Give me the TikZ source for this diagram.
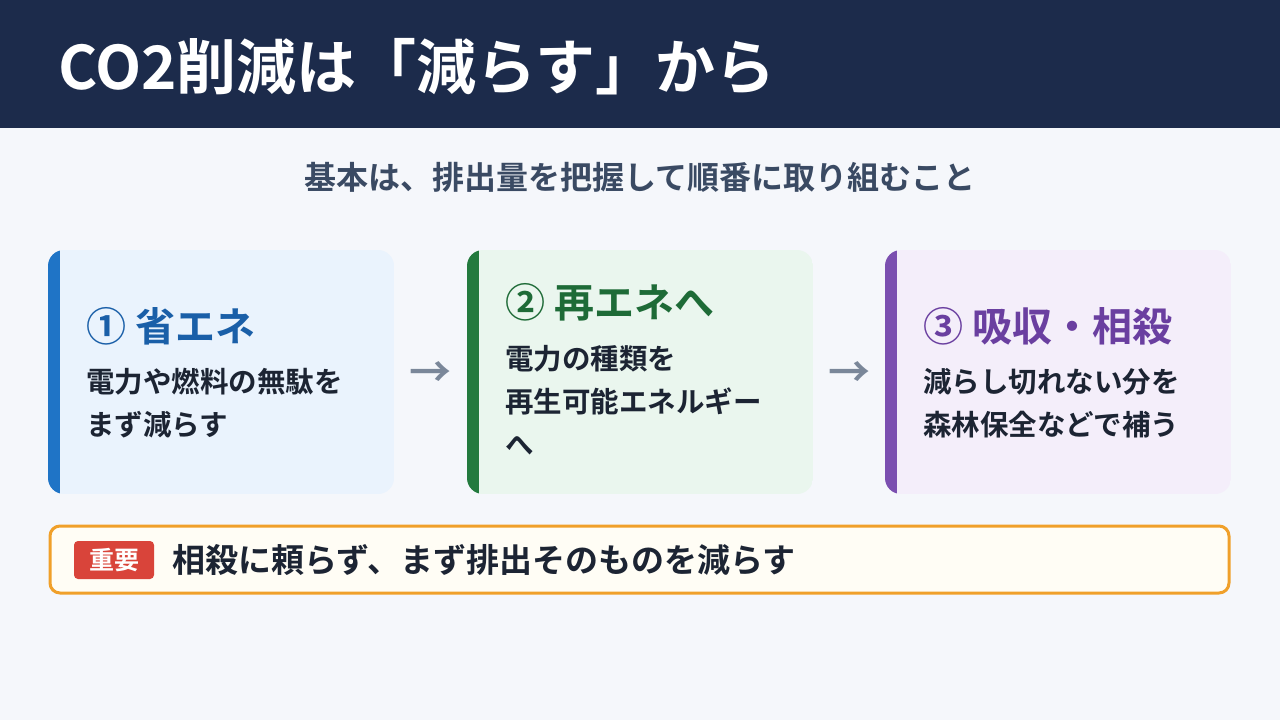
\documentclass[tikz,border=0pt]{standalone}
\usepackage{fontspec}
\setmainfont{Noto Sans CJK JP}[BoldFont={* Bold}]
\begin{document}
\begin{tikzpicture}[x=1pt,y=-1pt,
  txt/.style={inner sep=0pt,font=\bfseries},
  ttl/.style={txt,anchor=west,font=\fontsize{40}{46}\selectfont\bfseries},
  body/.style={txt,anchor=north west,align=left,text=bodyc,font=\fontsize{28.5}{43}\selectfont\bfseries},
  arr/.style={txt,text=arrc,font=\fontsize{42}{42}\selectfont\bfseries}]
\definecolor{navy}{HTML}{1C2B4B}
\definecolor{bg}{HTML}{F5F7FB}
\definecolor{subc}{HTML}{3A4A63}
\definecolor{bodyc}{HTML}{1C2433}
\definecolor{arrc}{HTML}{7A8799}
\definecolor{bF}{HTML}{EAF3FD}\definecolor{bS}{HTML}{1F74C6}\definecolor{bT}{HTML}{1A5FA8}
\definecolor{gF}{HTML}{EAF6EE}\definecolor{gS}{HTML}{237A3E}\definecolor{gT}{HTML}{1E6B37}
\definecolor{pF}{HTML}{F4EEFA}\definecolor{pS}{HTML}{7B4FB0}\definecolor{pT}{HTML}{6A3FA0}
\definecolor{orn}{HTML}{F0A02A}\definecolor{yl}{HTML}{FFFDF5}\definecolor{rd}{HTML}{D9443A}
\useasboundingbox (0,0) rectangle (1280,720);
\fill[bg] (0,0) rectangle (1280,720);
\fill[navy] (0,0) rectangle (1280,128);
\node[txt,anchor=west,text=white,font=\fontsize{60}{66}\selectfont\bfseries] (title) at (58,67) {CO2削減は「減らす」から};
\node[txt,text=subc,font=\fontsize{32}{36}\selectfont\bfseries] (sub) at (640,177) {基本は、排出量を把握して順番に取り組むこと};
\foreach \x/\f/\s in {48/bF/bS,467/gF/gS,885/pF/pS}{
  \begin{scope}
    \clip[rounded corners=16] (\x,250) rectangle ++(346,244);
    \fill[\f] (\x,250) rectangle ++(346,244);
    \fill[\s] (\x,250) rectangle ++(12,244);
  \end{scope}
}
\node[ttl,text=bT] (t1) at (86,326) {① 省エネ};
\node[body] (b1) at (86,368) {電力や燃料の無駄を\\まず減らす};
\node[ttl,text=gT] (t2) at (505,302) {② 再エネへ};
\node[body] (b2) at (505,345) {電力の種類を\\再生可能エネルギー\\へ};
\node[ttl,text=pT] (t3) at (923,326) {③ 吸収・相殺};
\node[body] (b3) at (923,368) {減らし切れない分を\\森林保全などで補う};
\node[arr] (a1) at (430,375) {→};
\node[arr] (a2) at (849,375) {→};
\draw[orn,line width=3,fill=yl,rounded corners=10] (50,526) rectangle (1229,593);
\fill[rd,rounded corners=4] (74,541) rectangle (154,579);
\node[txt,text=white,font=\fontsize{25}{28}\selectfont\bfseries] (badge) at (114,560) {重要};
\node[txt,anchor=west,text=bodyc,font=\fontsize{33}{36}\selectfont\bfseries] (imp) at (172,560) {相殺に頼らず、まず排出そのものを減らす};
\end{tikzpicture}
\end{document}
